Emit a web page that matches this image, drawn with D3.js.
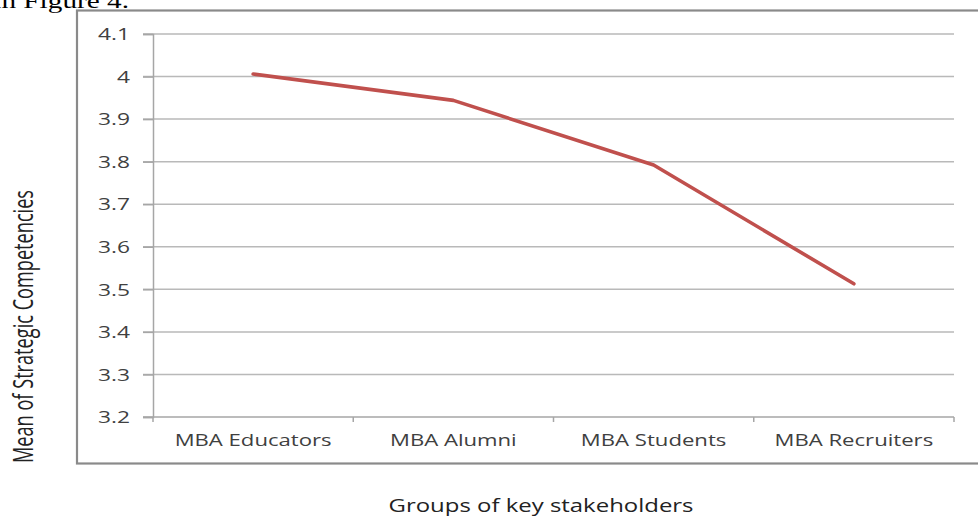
<!DOCTYPE html>
<html>
<head>
<meta charset="utf-8">
<script src="https://cdn.jsdelivr.net/npm/d3@7"></script>
<style>
  html, body { margin: 0; padding: 0; background: #fff; }
  svg { display: block; }
</style>
</head>
<body>
<svg id="chart" width="978" height="517"></svg>
<script>
const categories = ["MBA Educators", "MBA Alumni", "MBA Students", "MBA Recruiters"];
const values = [4.006, 3.944, 3.792, 3.513];
const yTicks = [3.2, 3.3, 3.4, 3.5, 3.6, 3.7, 3.8, 3.9, 4.0, 4.1];
const yTickLabels = ["3.2", "3.3", "3.4", "3.5", "3.6", "3.7", "3.8", "3.9", "4", "4.1"];
const xTitle = "Groups of key stakeholders";
const yTitle = "Mean of Strategic Competencies";
const captionText = "in Figure 4.";

(function () {
const svg = d3.select("#chart");
const plotLeft = 153, plotRight = 954, plotTop = 34, plotBottom = 417;
const textColor = "#404040";
const fontFam = "'Open Sans', 'DejaVu Sans', sans-serif";

// caption fragment (cropped) at top-left
const cap = svg.append("text")
  .attr("x", 129).attr("y", 7.5)
  .attr("text-anchor", "end")
  .attr("font-family", "'Liberation Serif', 'Times New Roman', serif")
  .attr("font-size", 22).attr("fill", "#000")
  .text(captionText);
const capW = cap.node().getComputedTextLength();
cap.attr("textLength", capW * 1.33).attr("lengthAdjust", "spacingAndGlyphs");

// outer frame
svg.append("rect")
  .attr("x", 77).attr("y", 10.5).attr("width", 960).attr("height", 453)
  .attr("fill", "none").attr("stroke", "#8a8a8a").attr("stroke-width", 2.2);

const x = d3.scaleBand().domain(categories).range([plotLeft, plotRight]).padding(0);
const y = d3.scaleLinear().domain([3.2, 4.1]).range([plotBottom, plotTop]);

// gridlines
svg.append("g").selectAll("line").data(yTicks.filter(d => d > 3.2)).join("line")
  .attr("x1", plotLeft - 10).attr("x2", plotRight)
  .attr("y1", d => y(d)).attr("y2", d => y(d))
  .attr("stroke", "#b9b9b9").attr("stroke-width", 1.5);

// y axis
const yAxis = svg.append("g").attr("transform", `translate(${plotLeft},0)`)
  .call(d3.axisLeft(y).tickValues(yTicks).tickSize(10).tickPadding(13)
    .tickFormat((d, i) => yTickLabels[i]));
yAxis.select(".domain").attr("stroke", "#a6a6a6").attr("stroke-width", 1.5);
yAxis.selectAll(".tick line").attr("stroke", "#a6a6a6").attr("stroke-width", 1.5);
yAxis.selectAll(".tick text")
  .attr("font-family", fontFam).attr("font-size", 16).attr("fill", textColor)
  .attr("dy", "0.36em");
const refTick = yAxis.selectAll(".tick text").nodes().find(n => n.textContent === "4.1");
const tickFactor = 32 / refTick.getComputedTextLength();
yAxis.selectAll(".tick text").each(function () {
  const w = this.getComputedTextLength();
  d3.select(this).attr("textLength", w * tickFactor).attr("lengthAdjust", "spacingAndGlyphs");
});

// x axis
const xAxisG = svg.append("g").attr("transform", `translate(0,${plotBottom})`);
xAxisG.append("line").attr("x1", plotLeft - 10).attr("x2", plotRight).attr("y1", 0).attr("y2", 0)
  .attr("stroke", "#a6a6a6").attr("stroke-width", 1.5);
const bounds = categories.map(c => x(c)).concat([x(categories[categories.length - 1]) + x.bandwidth()]);
xAxisG.selectAll("line.tk").data(bounds).join("line").attr("class", "tk")
  .attr("x1", d => d).attr("x2", d => d).attr("y1", 0).attr("y2", 5)
  .attr("stroke", "#a6a6a6").attr("stroke-width", 1.5);
const catLabels = xAxisG.selectAll("text").data(categories).join("text")
  .attr("x", d => x(d) + x.bandwidth() / 2).attr("y", 29)
  .attr("text-anchor", "middle")
  .attr("font-family", fontFam).attr("font-size", 17).attr("fill", textColor)
  .text(d => d);
const catFactor = 157 / catLabels.nodes()[0].getComputedTextLength();
catLabels.each(function () {
  const w = this.getComputedTextLength();
  d3.select(this).attr("textLength", w * catFactor).attr("lengthAdjust", "spacingAndGlyphs");
});

// line
const line = d3.line().x((d, i) => x(categories[i]) + x.bandwidth() / 2).y(d => y(d));
svg.append("path").datum(values)
  .attr("d", line).attr("fill", "none")
  .attr("stroke", "#c0504d").attr("stroke-width", 3.6)
  .attr("stroke-linejoin", "round").attr("stroke-linecap", "round");

// axis titles
svg.append("text")
  .attr("x", 541).attr("y", 512)
  .attr("text-anchor", "middle")
  .attr("font-family", fontFam).attr("font-size", 18).attr("fill", "#222")
  .attr("textLength", 305).attr("lengthAdjust", "spacingAndGlyphs")
  .text(xTitle);

svg.append("text")
  .attr("transform", "translate(33,326.5) rotate(-90) scale(1,1.5)")
  .attr("text-anchor", "middle")
  .attr("font-family", fontFam).attr("font-size", 18).attr("fill", "#222")
  .attr("textLength", 273).attr("lengthAdjust", "spacingAndGlyphs")
  .text(yTitle);
})();
</script>
</body>
</html>
